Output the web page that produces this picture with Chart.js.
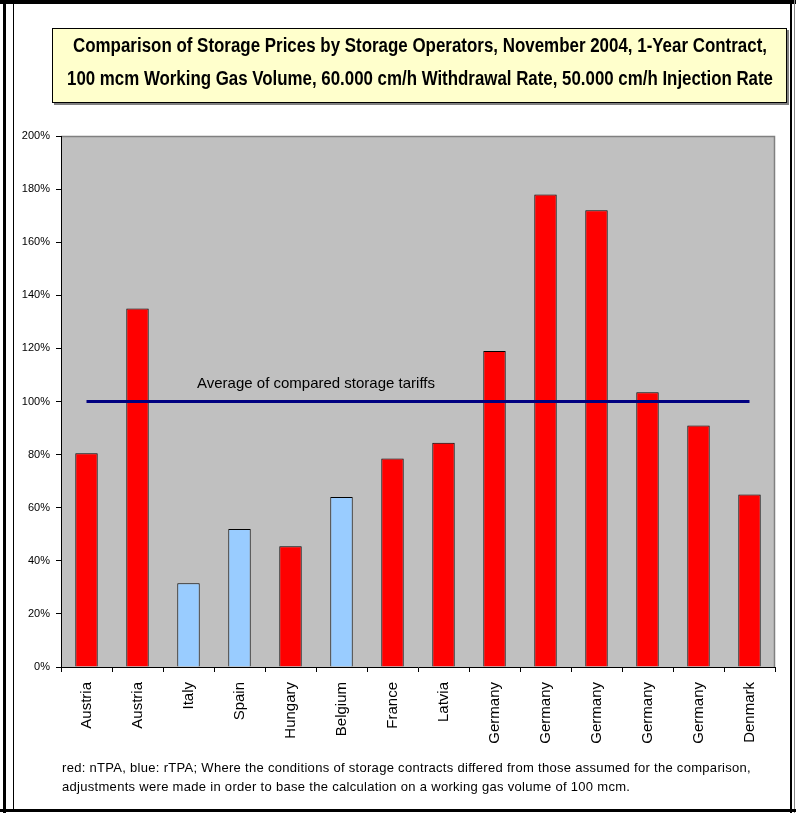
<!DOCTYPE html>
<html><head><meta charset="utf-8">
<script src="https://cdn.jsdelivr.net/npm/chart.js@4"></script>
<style>
html,body{margin:0;padding:0;background:#fff;}
#wrap{position:relative;width:796px;height:813px;overflow:hidden;background:#fff;}
#c{position:absolute;left:0;top:0;}
.ln{position:absolute;background:#000;}
#title{position:absolute;left:52px;top:28px;width:733px;height:73px;background:#FFFFCC;border:1px solid #000;box-shadow:2px 2px 0 #808080;
 font-family:"Liberation Sans",Arial,sans-serif;font-weight:bold;font-size:20px;line-height:33px;color:#000;white-space:nowrap;}
#title div{height:33px;line-height:33px;position:relative;}
#title span{position:absolute;left:50%;top:0;transform-origin:center center;}
#foot{position:absolute;left:62px;top:758px;font-family:"Liberation Sans",Arial,sans-serif;font-size:13px;letter-spacing:0.3px;line-height:19px;color:#000;white-space:nowrap;}
</style></head>
<body>
<div id="wrap">
<canvas id="c" width="796" height="813"></canvas>
<div id="title"><div><span data-w="694">Comparison of Storage Prices by Storage Operators, November 2004, 1-Year Contract,</span></div><div><span data-w="706">100 mcm Working Gas Volume, 60.000 cm/h Withdrawal Rate, 50.000 cm/h Injection Rate</span></div></div>
<div id="foot">red: nTPA, blue: rTPA; Where the conditions of storage contracts differed from those assumed for the comparison,<br>adjustments were made in order to base the calculation on a working gas volume of 100 mcm.</div>
<div class="ln" style="left:0;top:0;width:796px;height:4px;"></div>
<div class="ln" style="left:3px;top:0;width:3px;height:813px;"></div>
<div class="ln" style="left:13px;top:4px;width:1px;height:805px;"></div>
<div class="ln" style="left:790px;top:0;width:2px;height:813px;"></div>
<div class="ln" style="left:794px;top:0;width:1px;height:813px;background:#888;"></div>
<div class="ln" style="left:0;top:809px;width:796px;height:3px;"></div>
</div>
<script>
const categories = ['Austria','Austria','Italy','Spain','Hungary','Belgium','France','Latvia','Germany','Germany','Germany','Germany','Germany','Denmark'];
const prices = [80.5, 135, 31.5, 52, 45.5, 64, 78.5, 84.5, 119, 178, 172, 103.5, 91, 65];
const tpaType = ['n','n','r','r','n','r','n','n','n','n','n','n','n','n'];
const averageLevel = 100;
const averageLabel = 'Average of compared storage tariffs';
const yTickValues = [0,20,40,60,80,100,120,140,160,180,200];

const colorFor = {n:'#FF0000', r:'#99CCFF'};

document.querySelectorAll('#title span').forEach(s => {
  const w = s.getBoundingClientRect().width;
  const target = parseFloat(s.dataset.w);
  s.style.transform = 'translateX(-50%) scaleX(' + (target / w) + ')';
});

const plotBg = {
  id:'plotBg',
  beforeDraw(chart){
    const {ctx, chartArea:a} = chart;
    ctx.save();
    ctx.fillStyle = '#C0C0C0';
    ctx.fillRect(a.left, a.top, a.right-a.left, a.bottom-a.top);
    ctx.strokeStyle = '#808080';
    ctx.lineWidth = 1.5;
    ctx.beginPath();
    ctx.moveTo(a.left, a.top+0.5);
    ctx.lineTo(a.right-0.5, a.top+0.5);
    ctx.lineTo(a.right-0.5, a.bottom);
    ctx.stroke();
    ctx.restore();
  },
  afterDatasetsDraw(chart){
    const {ctx} = chart;
    const xs = chart.scales.x, ys = chart.scales.y;
    ctx.save();
    ctx.font = '15px "Liberation Sans", Arial, sans-serif';
    ctx.fillStyle = '#000';
    ctx.textAlign = 'center';
    ctx.textBaseline = 'middle';
    ctx.fillText(averageLabel, xs.getPixelForValue(4.5), ys.getPixelForValue(averageLevel) - 18);
    ctx.restore();
  }
};

new Chart(document.getElementById('c'), {
  data: {
    labels: categories,
    datasets: [
      {
        type:'line',
        data: categories.map(() => averageLevel),
        borderColor:'#000080',
        borderWidth:3,
        pointRadius:0,
        fill:false,
        order:0
      },
      {
        type:'bar',
        data: prices,
        backgroundColor: tpaType.map(t => colorFor[t]),
        borderColor:'#000',
        borderWidth:1,
        barPercentage:0.44,
        categoryPercentage:1,
        order:1
      }
    ]
  },
  options: {
    responsive:false,
    animation:false,
    devicePixelRatio:1,
    layout:{padding:{top:136,left:0,right:21,bottom:0}},
    plugins:{legend:{display:false}, tooltip:{enabled:false}, title:{display:false}},
    scales:{
      x:{
        type:'category',
        offset:true,
        grid:{display:true, drawOnChartArea:false, drawTicks:true, tickLength:5, color:'#000', offset:true},
        border:{display:true, color:'#000', width:1},
        ticks:{color:'#000', font:{family:'"Liberation Sans", Arial, sans-serif', size:15}, minRotation:90, maxRotation:90, padding:10, autoSkip:false},
        afterFit(s){ s.height = 146; }
      },
      y:{
        min:0, max:200,
        afterBuildTicks(s){ s.ticks = yTickValues.map(v => ({value:v})); },
        grid:{display:true, drawOnChartArea:false, drawTicks:true, tickLength:5, color:'#000'},
        border:{display:true, color:'#000', width:1},
        ticks:{color:'#000', font:{family:'"Liberation Sans", Arial, sans-serif', size:11}, padding:6, callback:v => v + '%'},
        afterFit(s){ s.width = 61; }
      }
    }
  },
  plugins:[plotBg]
});
</script>
</body></html>
